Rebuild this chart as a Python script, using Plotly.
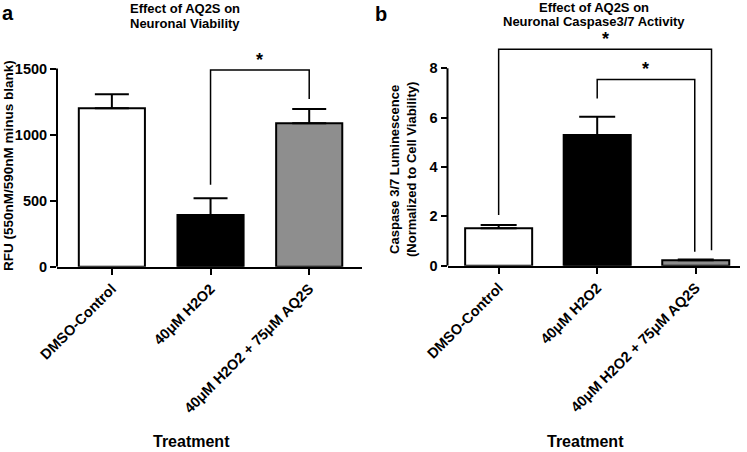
import plotly.graph_objects as go

categories = ["DMSO-Control", "40μM H2O2", "40μM H2O2 + 75μM AQ2S"]
viability = [1200, 391, 1086]
viability_err = [105, 127, 108]
caspase = [1.52, 5.30, 0.22]
caspase_err = [0.13, 0.74, 0.03]
bar_colors = ["white", "black", "#8e8e8e"]

# significance brackets: (x_left, x_right, y_top, y_left_end, y_right_end)
brackets_a = [(1, 2, 1490, 620, 1270)]
brackets_b = [(0, 2.16, 8.77, 2.05, 0.63), (1, 1.99, 7.55, 6.78, 0.57)]

W, H = 747, 452
FONT = "Liberation Sans, Arial, sans-serif"

def px_x(p):
    return p / W

def px_y(p):
    return 1 - p / H

fig = go.Figure()

fig.add_trace(go.Bar(
    x=[0, 1, 2], y=viability, width=0.67,
    marker=dict(color=bar_colors, line=dict(color="black", width=2)),
    error_y=dict(type="data", symmetric=False, array=viability_err,
                 arrayminus=[0, 0, 0], color="black", thickness=2, width=17),
    xaxis="x", yaxis="y", showlegend=False, hoverinfo="skip"))

fig.add_trace(go.Bar(
    x=[0, 1, 2], y=caspase, width=0.68,
    marker=dict(color=bar_colors, line=dict(color="black", width=2)),
    error_y=dict(type="data", symmetric=False, array=caspase_err,
                 arrayminus=[0, 0, 0], color="black", thickness=2, width=18),
    xaxis="x2", yaxis="y2", showlegend=False, hoverinfo="skip"))

tickfont = dict(family=FONT, size=14.5, color="black", weight="bold")

common_x = dict(showline=True, linecolor="black", linewidth=2, ticks="outside",
                ticklen=6, tickwidth=2, tickcolor="black", tickvals=[0, 1, 2],
                ticktext=categories, tickangle=-45, tickfont=tickfont,
                showgrid=False, zeroline=False, fixedrange=True, automargin=False)
common_y = dict(showline=False, ticks="outside", ticklen=6, tickwidth=2,
                tickcolor="black", tickfont=tickfont, showgrid=False,
                zeroline=False, fixedrange=True, automargin=False)

fig.update_layout(
    width=W, height=H, margin=dict(l=0, r=0, t=0, b=0, pad=0, autoexpand=False),
    paper_bgcolor="white", plot_bgcolor="white",
    font=dict(family=FONT, color="black"),
    xaxis=dict(domain=[px_x(57), px_x(362)], range=[-0.556, 2.535], anchor="y", **common_x),
    yaxis=dict(domain=[px_y(266.7), px_y(50)], range=[0, 1641], anchor="x",
               tickvals=[0, 500, 1000, 1500], **common_y),
    xaxis2=dict(domain=[px_x(447.5), px_x(740)], range=[-0.519, 2.449], anchor="y2", **common_x),
    yaxis2=dict(domain=[px_y(265.7), px_y(35)], range=[0, 9.35], anchor="x2",
                tickvals=[0, 2, 4, 6, 8], **common_y),
)

shapes = []
# y axis lines (only up to the top tick)
shapes.append(dict(type="line", xref="paper", yref="y", x0=px_x(57), x1=px_x(57),
                   y0=0, y1=1500, line=dict(color="black", width=2)))
shapes.append(dict(type="line", xref="paper", yref="y2", x0=px_x(447.5), x1=px_x(447.5),
                   y0=0, y1=8, line=dict(color="black", width=2)))

annotations = []

def add_brackets(brs, xr, yr):
    for (xl, xrr, yt, yl, yre) in brs:
        shapes.append(dict(type="path", xref=xr, yref=yr,
                           path=f"M {xl},{yl} L {xl},{yt} L {xrr},{yt} L {xrr},{yre}",
                           line=dict(color="black", width=1.5)))
        annotations.append(dict(x=(xl + xrr) / 2, y=yt, xref=xr, yref=yr, text="*",
                                showarrow=False, yanchor="bottom", yshift=-2,
                                font=dict(family=FONT, size=18, color="black", weight="bold")))

add_brackets(brackets_a, "x", "y")
add_brackets(brackets_b, "x2", "y2")

def txt(x, y, s, size, angle=0, xanchor="center", yanchor="middle"):
    annotations.append(dict(x=px_x(x), y=px_y(y), xref="paper", yref="paper", text=s,
                            showarrow=False, textangle=angle, xanchor=xanchor,
                            yanchor=yanchor,
                            font=dict(family=FONT, size=size, color="black", weight="bold")))

txt(0, 13, "a", 20, xanchor="left")
txt(373, 14, "b", 20, xanchor="left")
txt(185, 9, "Effect of AQ2S on", 13)
txt(185, 23, "Neuronal Viability", 13)
txt(594, 7.5, "Effect of AQ2S on", 13)
txt(594, 21.5, "Neuronal Caspase3/7 Activity", 13)
txt(8, 166, "RFU (550nM/590nM minus blank)", 13.5, angle=-90)
txt(403, 170, "Caspase 3/7 Luminescence<br>(Normalized to Cell Viability)", 13, angle=-90)
txt(192, 441, "Treatment", 16)
txt(585, 441, "Treatment", 16)

fig.update_layout(shapes=shapes, annotations=annotations)
fig.write_html("out.html", config={"displayModeBar": False},
               post_script="document.body.style.margin='0';document.body.style.overflow='hidden';")
